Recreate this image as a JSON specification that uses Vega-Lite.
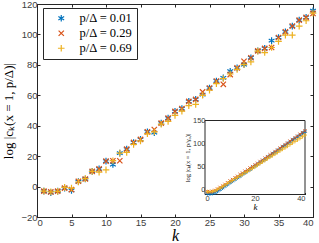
{
"$schema":"https://vega.github.io/schema/vega-lite/v6.json",
"width":276,"height":213,
"autosize":"none",
"padding":{"left":37,"top":4,"right":6,"bottom":26},
"background":"white",
"config":{
 "view":{"stroke":"#262626","strokeWidth":1},
 "axis":{"labelFont":"Liberation Sans","labelFontSize":9.5,"labelColor":"#404040","domainColor":"#262626","tickColor":"#262626","tickSize":-3,"grid":false,"titleFont":"Liberation Serif","titleColor":"#000","titleFontWeight":"normal","labelPadding":3}
},
"datasets":{
"main":[
{"k":1,"s":"0.01","v":-3},{"k":2,"s":"0.01","v":-4},{"k":3,"s":"0.01","v":-3},{"k":4,"s":"0.01","v":-1},{"k":5,"s":"0.01","v":-2.5},{"k":6,"s":"0.01","v":3.3},{"k":7,"s":"0.01","v":5},{"k":8,"s":"0.01","v":10},{"k":9,"s":"0.01","v":11.6},{"k":10,"s":"0.01","v":16.7},{"k":11,"s":"0.01","v":14.5},{"k":12,"s":"0.01","v":22},{"k":13,"s":"0.01","v":24.6},{"k":14,"s":"0.01","v":29},{"k":15,"s":"0.01","v":31},{"k":16,"s":"0.01","v":36},{"k":17,"s":"0.01","v":35.5},{"k":18,"s":"0.01","v":41.7},{"k":19,"s":"0.01","v":45},{"k":20,"s":"0.01","v":49.4},{"k":21,"s":"0.01","v":51.2},{"k":22,"s":"0.01","v":56},{"k":23,"s":"0.01","v":57.3},{"k":24,"s":"0.01","v":60.4},{"k":25,"s":"0.01","v":64.8},{"k":26,"s":"0.01","v":69.4},{"k":27,"s":"0.01","v":71.4},{"k":28,"s":"0.01","v":75.8},{"k":29,"s":"0.01","v":78},{"k":30,"s":"0.01","v":80.2},{"k":31,"s":"0.01","v":84.7},{"k":32,"s":"0.01","v":89.2},{"k":33,"s":"0.01","v":90.8},{"k":34,"s":"0.01","v":95.9},{"k":35,"s":"0.01","v":98},{"k":36,"s":"0.01","v":101.7},{"k":37,"s":"0.01","v":105.5},{"k":38,"s":"0.01","v":109.4},{"k":39,"s":"0.01","v":111.2},{"k":40,"s":"0.01","v":115.6},
{"k":1,"s":"0.29","v":-3},{"k":2,"s":"0.29","v":-3.5},{"k":3,"s":"0.29","v":-3},{"k":4,"s":"0.29","v":-1},{"k":5,"s":"0.29","v":-2},{"k":6,"s":"0.29","v":3.5},{"k":7,"s":"0.29","v":5},{"k":8,"s":"0.29","v":10},{"k":9,"s":"0.29","v":11.6},{"k":10,"s":"0.29","v":16.7},{"k":11,"s":"0.29","v":17},{"k":12,"s":"0.29","v":17},{"k":13,"s":"0.29","v":24.6},{"k":14,"s":"0.29","v":29},{"k":15,"s":"0.29","v":31},{"k":16,"s":"0.29","v":36},{"k":17,"s":"0.29","v":37.5},{"k":18,"s":"0.29","v":41.7},{"k":19,"s":"0.29","v":45},{"k":20,"s":"0.29","v":49.4},{"k":21,"s":"0.29","v":51.2},{"k":22,"s":"0.29","v":56},{"k":23,"s":"0.29","v":57.3},{"k":24,"s":"0.29","v":62.2},{"k":25,"s":"0.29","v":64.8},{"k":26,"s":"0.29","v":69.4},{"k":27,"s":"0.29","v":67.2},{"k":28,"s":"0.29","v":73.6},{"k":29,"s":"0.29","v":78},{"k":30,"s":"0.29","v":82.4},{"k":31,"s":"0.29","v":84.7},{"k":32,"s":"0.29","v":89.2},{"k":33,"s":"0.29","v":90.8},{"k":34,"s":"0.29","v":91.4},{"k":35,"s":"0.29","v":98},{"k":36,"s":"0.29","v":101.7},{"k":37,"s":"0.29","v":105.5},{"k":38,"s":"0.29","v":109.4},{"k":39,"s":"0.29","v":111.2},{"k":40,"s":"0.29","v":113.8},
{"k":1,"s":"0.69","v":-3},{"k":2,"s":"0.69","v":-3.5},{"k":3,"s":"0.69","v":-3.2},{"k":4,"s":"0.69","v":-0.5},{"k":5,"s":"0.69","v":-1},{"k":6,"s":"0.69","v":3},{"k":7,"s":"0.69","v":5.2},{"k":8,"s":"0.69","v":10},{"k":9,"s":"0.69","v":9.5},{"k":10,"s":"0.69","v":11},{"k":11,"s":"0.69","v":17},{"k":12,"s":"0.69","v":22},{"k":13,"s":"0.69","v":22.5},{"k":14,"s":"0.69","v":27.7},{"k":15,"s":"0.69","v":30},{"k":16,"s":"0.69","v":34.7},{"k":17,"s":"0.69","v":36},{"k":18,"s":"0.69","v":41},{"k":19,"s":"0.69","v":42.8},{"k":20,"s":"0.69","v":46.8},{"k":21,"s":"0.69","v":49.6},{"k":22,"s":"0.69","v":53.2},{"k":23,"s":"0.69","v":54},{"k":24,"s":"0.69","v":60},{"k":25,"s":"0.69","v":63.3},{"k":26,"s":"0.69","v":67.7},{"k":27,"s":"0.69","v":71},{"k":28,"s":"0.69","v":74},{"k":29,"s":"0.69","v":77},{"k":30,"s":"0.69","v":80.2},{"k":31,"s":"0.69","v":82},{"k":32,"s":"0.69","v":89},{"k":33,"s":"0.69","v":88.1},{"k":34,"s":"0.69","v":91.4},{"k":35,"s":"0.69","v":95.4},{"k":36,"s":"0.69","v":99.5},{"k":37,"s":"0.69","v":99.5},{"k":38,"s":"0.69","v":105.5},{"k":39,"s":"0.69","v":109},{"k":40,"s":"0.69","v":114}
],
"inset":[
{"k":1,"s":"0.01","v":-8},{"k":2,"s":"0.01","v":-8.5},{"k":3,"s":"0.01","v":-7.5},{"k":4,"s":"0.01","v":-6},{"k":5,"s":"0.01","v":-3},{"k":6,"s":"0.01","v":0.5},{"k":7,"s":"0.01","v":4},{"k":8,"s":"0.01","v":8},{"k":9,"s":"0.01","v":11.5},{"k":10,"s":"0.01","v":15.5},{"k":11,"s":"0.01","v":19},{"k":12,"s":"0.01","v":22.5},{"k":13,"s":"0.01","v":26},{"k":14,"s":"0.01","v":29.5},{"k":15,"s":"0.01","v":33.5},{"k":16,"s":"0.01","v":37},{"k":17,"s":"0.01","v":40.5},{"k":18,"s":"0.01","v":44},{"k":19,"s":"0.01","v":48},{"k":20,"s":"0.01","v":51.5},{"k":21,"s":"0.01","v":55},{"k":22,"s":"0.01","v":59},{"k":23,"s":"0.01","v":62.5},{"k":24,"s":"0.01","v":66},{"k":25,"s":"0.01","v":70},{"k":26,"s":"0.01","v":73.5},{"k":27,"s":"0.01","v":77.5},{"k":28,"s":"0.01","v":81},{"k":29,"s":"0.01","v":85},{"k":30,"s":"0.01","v":88.5},{"k":31,"s":"0.01","v":92.5},{"k":32,"s":"0.01","v":96},{"k":33,"s":"0.01","v":100},{"k":34,"s":"0.01","v":103.5},{"k":35,"s":"0.01","v":107.5},{"k":36,"s":"0.01","v":111},{"k":37,"s":"0.01","v":115},{"k":38,"s":"0.01","v":118.5},{"k":39,"s":"0.01","v":122.5},{"k":40,"s":"0.01","v":126},
{"k":1,"s":"0.29","v":-4},{"k":2,"s":"0.29","v":-4.5},{"k":3,"s":"0.29","v":-3},{"k":4,"s":"0.29","v":-1},{"k":5,"s":"0.29","v":2},{"k":6,"s":"0.29","v":5.5},{"k":7,"s":"0.29","v":8.5},{"k":8,"s":"0.29","v":12},{"k":9,"s":"0.29","v":15.5},{"k":10,"s":"0.29","v":19.5},{"k":11,"s":"0.29","v":22.5},{"k":12,"s":"0.29","v":26.5},{"k":13,"s":"0.29","v":29.5},{"k":14,"s":"0.29","v":33.5},{"k":15,"s":"0.29","v":36.5},{"k":16,"s":"0.29","v":40.5},{"k":17,"s":"0.29","v":43.5},{"k":18,"s":"0.29","v":47.5},{"k":19,"s":"0.29","v":50.5},{"k":20,"s":"0.29","v":54.5},{"k":21,"s":"0.29","v":57.5},{"k":22,"s":"0.29","v":61.5},{"k":23,"s":"0.29","v":64.5},{"k":24,"s":"0.29","v":68.5},{"k":25,"s":"0.29","v":72},{"k":26,"s":"0.29","v":76},{"k":27,"s":"0.29","v":79},{"k":28,"s":"0.29","v":83},{"k":29,"s":"0.29","v":86.5},{"k":30,"s":"0.29","v":90.5},{"k":31,"s":"0.29","v":94},{"k":32,"s":"0.29","v":98},{"k":33,"s":"0.29","v":101.5},{"k":34,"s":"0.29","v":105.5},{"k":35,"s":"0.29","v":109},{"k":36,"s":"0.29","v":113},{"k":37,"s":"0.29","v":116.5},{"k":38,"s":"0.29","v":120.5},{"k":39,"s":"0.29","v":124},{"k":40,"s":"0.29","v":128},
{"k":1,"s":"0.69","v":-4},{"k":2,"s":"0.69","v":-4},{"k":3,"s":"0.69","v":-3.5},{"k":4,"s":"0.69","v":-2},{"k":5,"s":"0.69","v":1},{"k":6,"s":"0.69","v":4},{"k":7,"s":"0.69","v":7},{"k":8,"s":"0.69","v":10.5},{"k":9,"s":"0.69","v":14},{"k":10,"s":"0.69","v":17.5},{"k":11,"s":"0.69","v":20.5},{"k":12,"s":"0.69","v":24},{"k":13,"s":"0.69","v":27},{"k":14,"s":"0.69","v":30.5},{"k":15,"s":"0.69","v":33.5},{"k":16,"s":"0.69","v":37},{"k":17,"s":"0.69","v":40},{"k":18,"s":"0.69","v":43.5},{"k":19,"s":"0.69","v":46.5},{"k":20,"s":"0.69","v":50},{"k":21,"s":"0.69","v":53.5},{"k":22,"s":"0.69","v":57},{"k":23,"s":"0.69","v":60.5},{"k":24,"s":"0.69","v":64},{"k":25,"s":"0.69","v":67.5},{"k":26,"s":"0.69","v":71},{"k":27,"s":"0.69","v":74},{"k":28,"s":"0.69","v":77.5},{"k":29,"s":"0.69","v":81},{"k":30,"s":"0.69","v":84.5},{"k":31,"s":"0.69","v":88},{"k":32,"s":"0.69","v":91},{"k":33,"s":"0.69","v":94.5},{"k":34,"s":"0.69","v":98},{"k":35,"s":"0.69","v":101.5},{"k":36,"s":"0.69","v":105},{"k":37,"s":"0.69","v":108},{"k":38,"s":"0.69","v":111.5},{"k":39,"s":"0.69","v":115},{"k":40,"s":"0.69","v":118.5}
],
"frame":[{"x0":0,"x1":40,"y0":-10,"y1":150}]
},
"layer":[
{
 "data":{"name":"main"},
 "mark":{"type":"point","filled":false,"strokeWidth":1.2,"size":44,"opacity":1},
 "encoding":{
  "x":{"field":"k","type":"quantitative","scale":{"domain":[0,40],"nice":false,"zero":false},
       "axis":{"orient":"bottom","values":[0,5,10,15,20,25,30,35,40],"title":"k","titleFontStyle":"italic","titleFontSize":16,"titlePadding":1}},
  "y":{"field":"v","type":"quantitative","scale":{"domain":[-20,120],"nice":false,"zero":false},
       "axis":{"orient":"left","values":[-20,0,20,40,60,80,100,120],"title":"log |cₖ(x = 1, p/Δ)|","titleFontSize":13,"titlePadding":5}},
  "color":{"field":"s","type":"nominal","scale":{"domain":["0.01","0.29","0.69"],"range":["#0072BD","#D95319","#EDB120"]},
       "legend":{"orient":"none","legendX":6,"legendY":4,"title":null,"fillColor":"white","strokeColor":"#262626","padding":4,"symbolOffset":8,"labelOffset":12,"rowPadding":2,"labelFont":"Liberation Serif","labelFontSize":12.5,"labelColor":"#000","symbolSize":44,"symbolStrokeWidth":1.2,"labelExpr":"'p/Δ = ' + datum.label"}},
  "shape":{"field":"s","type":"nominal","scale":{"domain":["0.01","0.29","0.69"],"range":["M0,-1L0,1M-0.87,-0.5L0.87,0.5M-0.87,0.5L0.87,-0.5","M-0.8,-0.8L0.8,0.8M-0.8,0.8L0.8,-0.8","M0,-1L0,1M-1,0L1,0"]},
       "legend":{"orient":"none","legendX":6,"legendY":4,"title":null,"fillColor":"white","strokeColor":"#262626","padding":4,"symbolOffset":8,"labelOffset":12,"rowPadding":2,"labelFont":"Liberation Serif","labelFontSize":12.5,"labelColor":"#000","symbolSize":44,"symbolStrokeWidth":1.2,"labelExpr":"'p/Δ = ' + datum.label"}}
 }
},
{
 "data":{"name":"frame"},
 "mark":{"type":"point","opacity":0},
 "encoding":{
  "x":{"field":"x0","type":"quantitative","scale":{"domain":[0,40],"nice":false,"zero":false},
       "axis":{"orient":"top","values":[0,5,10,15,20,25,30,35,40],"labels":false,"title":null,"domain":false}},
  "y":{"field":"y0","type":"quantitative","scale":{"domain":[-20,120],"nice":false,"zero":false},
       "axis":{"orient":"right","values":[-20,0,20,40,60,80,100,120],"labels":false,"title":null,"domain":false}}
 }
},
{
 "data":{"name":"frame"},
 "mark":{"type":"rect","fill":"white","stroke":"#262626","strokeWidth":1},
 "encoding":{
  "x":{"field":"x0","type":"quantitative","scale":{"domain":[0,40],"range":[168,268],"nice":false,"zero":false},"axis":null},
  "x2":{"field":"x1"},
  "y":{"field":"y0","type":"quantitative","scale":{"domain":[-10,150],"range":[190.5,116.5],"nice":false,"zero":false},"axis":null},
  "y2":{"field":"y1"}
 }
},
{
 "data":{"name":"inset"},
 "mark":{"type":"point","filled":false,"strokeWidth":0.9,"size":16,"opacity":1},
 "encoding":{
  "x":{"field":"k","type":"quantitative","scale":{"domain":[0,40],"range":[168,268],"nice":false,"zero":false},
       "axis":{"orient":"bottom","offset":-22.5,"values":[0,20,40],"title":"k","titleFontStyle":"italic","titleFontSize":9,"titlePadding":0,"labelFontSize":7.5,"labelPadding":2,"tickSize":-2,"domain":false}},
  "y":{"field":"v","type":"quantitative","scale":{"domain":[-10,150],"range":[190.5,116.5],"nice":false,"zero":false},
       "axis":{"orient":"left","offset":-168,"values":[0,50,100,150],"title":"log |cₖ(x = 1, p/γ₀)|","titleFontSize":6.5,"titlePadding":2,"labelFontSize":7.5,"labelPadding":2,"tickSize":-2,"domain":false}},
  "color":{"field":"s","type":"nominal","scale":{"domain":["0.01","0.29","0.69"],"range":["#0072BD","#D95319","#EDB120"]},
       "legend":{"orient":"none","legendX":6,"legendY":4,"title":null,"fillColor":"white","strokeColor":"#262626","padding":4,"symbolOffset":8,"labelOffset":12,"rowPadding":2,"labelFont":"Liberation Serif","labelFontSize":12.5,"labelColor":"#000","symbolSize":44,"symbolStrokeWidth":1.2,"labelExpr":"'p/Δ = ' + datum.label"}},
  "shape":{"field":"s","type":"nominal","scale":{"domain":["0.01","0.29","0.69"],"range":["M0,-1L0,1M-0.87,-0.5L0.87,0.5M-0.87,0.5L0.87,-0.5","M-0.8,-0.8L0.8,0.8M-0.8,0.8L0.8,-0.8","M0,-1L0,1M-1,0L1,0"]},
       "legend":{"orient":"none","legendX":6,"legendY":4,"title":null,"fillColor":"white","strokeColor":"#262626","padding":4,"symbolOffset":8,"labelOffset":12,"rowPadding":2,"labelFont":"Liberation Serif","labelFontSize":12.5,"labelColor":"#000","symbolSize":44,"symbolStrokeWidth":1.2,"labelExpr":"'p/Δ = ' + datum.label"}}
 }
}
],
"resolve":{"scale":{"x":"independent","y":"independent","color":"shared","shape":"shared"}}
}
